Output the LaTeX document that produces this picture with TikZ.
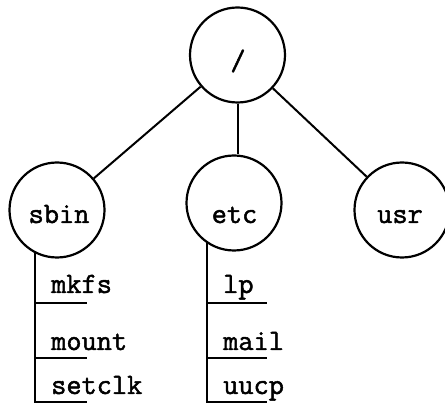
\documentclass[tikz,border=0pt]{standalone}
\usepackage{fontspec}
\newfontfamily\dirfont[FakeBold=1.6]{Latin Modern Mono}
\begin{document}
\begin{tikzpicture}[x=1pt,y=-1pt,
  dirnode/.style={circle,draw,line width=2.2pt,minimum size=95pt,inner sep=0pt},
  dirname/.style={font=\dirfont\fontsize{29.5}{29.5}\selectfont,inner sep=0pt,anchor=base},
  leafname/.style={font=\dirfont\fontsize{29.5}{29.5}\selectfont,inner sep=0pt,anchor=base west},
  link/.style={line width=2pt}]
\useasboundingbox (0,0) rectangle (445,403);

% directory circles
\node[dirnode] (root) at (237.5,55) {};
\node[dirnode] (sbin) at (57,210) {};
\node[dirnode] (etc)  at (234,203) {};
\node[dirnode] (usr)  at (402,210) {};

% directory names
\node[dirname] (rootname) at (238,70) {/};
\node[dirname] (sbinname) at (59,223) {sbin};
\node[dirname] (etcname)  at (234.5,223) {etc};
\node[dirname] (usrname)  at (400,223) {usr};

% edges from the root
\draw[link] (root) -- (sbin);
\draw[link] (root) -- (usr);
\draw[link] (root.south) -- (root.south |- etc.north);

% file lists
\coordinate (sbinend) at (87,402);
\coordinate (etcend)  at (267,402);
\draw[link] (sbin.-117) |- (sbinend);
\draw[link] (etc.-124) |- (etcend);

\coordinate (s1) at (35,303);
\coordinate (s2) at (35,358);
\draw[link] (s1) -- (sbinend |- s1);
\draw[link] (s2) -- (sbinend |- s2);
\coordinate (e1) at (207,303);
\coordinate (e2) at (207,358);
\draw[link] (e1) -- (etcend |- e1);
\draw[link] (e2) -- (etcend |- e2);

\node[leafname] (mkfs)   at (51,293) {mkfs};
\node[leafname] (mount)  at (51,350) {mount};
\node[leafname] (setclk) at (51,394) {setclk};
\node[leafname] (lp)     at (223,293) {lp};
\node[leafname] (mail)   at (223,350) {mail};
\node[leafname] (uucp)   at (223,394) {uucp};
\end{tikzpicture}
\end{document}
